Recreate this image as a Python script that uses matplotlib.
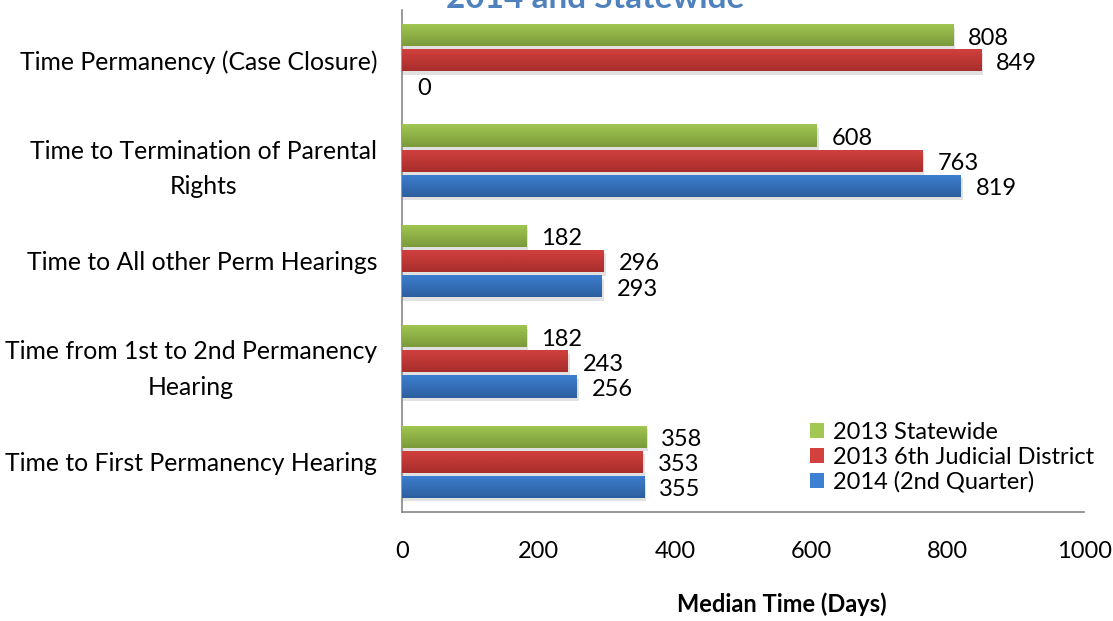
import numpy as np
import matplotlib
matplotlib.use("Agg")
import matplotlib.pyplot as plt
from matplotlib.colors import LinearSegmentedColormap

plt.rcParams['font.family'] = ['Lato', 'DejaVu Sans']

# categories listed top to bottom
categories = [
    "Time Permanency (Case Closure)",
    "Time to Termination of Parental\nRights",
    "Time to All other Perm Hearings",
    "Time from 1st to 2nd Permanency\nHearing",
    "Time to First Permanency Hearing",
]
statewide_2013 = [808, 608, 182, 182, 358]
district_2013 = [849, 763, 296, 243, 353]
quarter2_2014 = [0, 819, 293, 256, 355]

series_names = ["2013 Statewide", "2013 6th Judicial District", "2014 (2nd Quarter)"]
# (light, dark) for the vertical gradient
series_colors = [("#a2c752", "#7b9a3b"), ("#d2413e", "#a82e2c"), ("#3d7fd0", "#2d5f9f")]
x_ticks = [0, 200, 400, 600, 800, 1000]

fig = plt.figure(figsize=(11.13, 6.21), dpi=100)
ax = fig.add_axes([0.3612, 0.1755, 0.6128, 0.8085])

n = len(categories)
ypos = np.arange(n)[::-1]
offsets = [0.25, 0.0, -0.25]
bar_h = 0.22

all_series = [statewide_2013, district_2013, quarter2_2014]
for vals, name, (c1, c2), off in zip(all_series, series_names, series_colors, offsets):
    bars = ax.barh(ypos + off, vals, height=bar_h, color=c1, label=name, zorder=2)
    cmap = LinearSegmentedColormap.from_list(name, [c1, c2])
    for b, v in zip(bars, vals):
        x0, y0 = b.get_x(), b.get_y()
        w, h = b.get_width(), b.get_height()
        if w > 0:
            # soft shadow under the bar
            ax.barh(y0 + h / 2 - 0.035, w + 3, height=h, left=x0,
                    color="#c4c4c4", alpha=0.5, zorder=1)
            grad = np.linspace(0, 1, 50).reshape(-1, 1)
            im = ax.imshow(grad, cmap=cmap, aspect="auto", origin="upper",
                           extent=(x0, x0 + w, y0, y0 + h), zorder=3)
            im.set_clip_path(b)
        ax.text(v + 22, y0 + h / 2 - 0.03, str(v), va="center", ha="left",
                fontsize=17, color="black", zorder=4)

ax.set_xlim(0, 1000)
ax.set_ylim(-0.5, 4.5)
ax.set_xticks(x_ticks)
ax.set_xticklabels([str(t) for t in x_ticks], fontsize=17)
ax.set_yticks(ypos)
ax.set_yticklabels(categories, fontsize=17.8, multialignment="center", linespacing=1.65)
ax.tick_params(axis="both", length=0)
ax.tick_params(axis="x", pad=21)
ax.tick_params(axis="y", pad=18)

for side in ["top", "right"]:
    ax.spines[side].set_visible(False)
ax.spines["left"].set_color("#888888")
ax.spines["bottom"].set_color("#888888")
ax.spines["left"].set_linewidth(1.2)
ax.spines["bottom"].set_linewidth(1.2)

ax.set_xlabel("Median Time (Days)", fontsize=17, fontweight="bold", x=0.557, labelpad=22)

ax.legend(loc="lower right", bbox_to_anchor=(1.035, 0.01), frameon=False,
          fontsize=17, handlelength=0.6, handleheight=0.6, handletextpad=0.35,
          labelspacing=0.15, borderaxespad=0.2)

fig.text(0.535, 1.003, "2014 and Statewide", ha="center", va="center",
         fontsize=24, fontweight="bold", color="#4f81bd")

fig.savefig("out.png", dpi=100)
